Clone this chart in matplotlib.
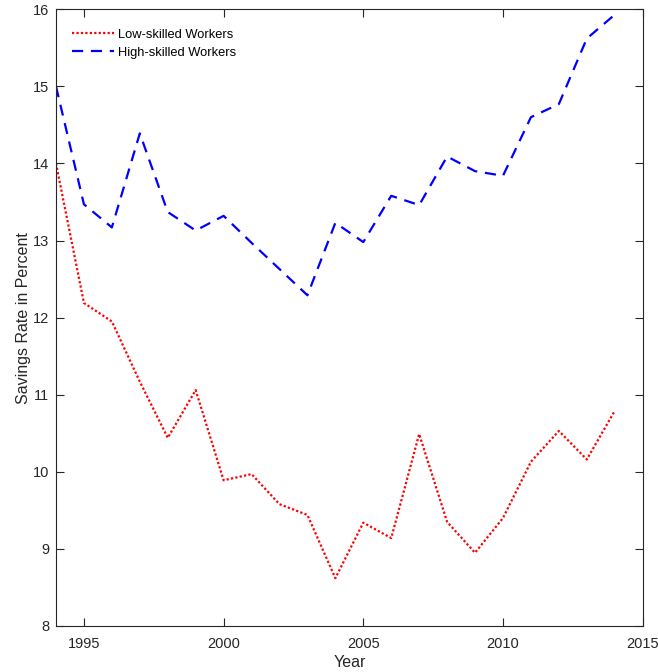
import matplotlib
matplotlib.use("Agg")
import matplotlib.pyplot as plt

years = list(range(1994, 2015))
low_skilled = [14.0, 12.19, 11.95, 11.17, 10.44, 11.06, 9.89, 9.97, 9.58, 9.44,
               8.62, 9.34, 9.14, 10.49, 9.35, 8.95, 9.40, 10.13, 10.53, 10.16, 10.79]
high_skilled = [15.0, 13.47, 13.17, 14.39, 13.37, 13.13, 13.32, 12.97, 12.63, 12.29,
                13.23, 12.98, 13.58, 13.46, 14.09, 13.90, 13.84, 14.60, 14.77, 15.62, 15.93]
xticks = [1995, 2000, 2005, 2010, 2015]
yticks = [8, 9, 10, 11, 12, 13, 14, 15, 16]

plt.rcParams["font.family"] = ["Liberation Sans", "DejaVu Sans"]
axis_color = "#262626"

fig = plt.figure(figsize=(6.58, 6.72), dpi=100)
ax = fig.add_axes([0.0851, 0.0685, 0.8916, 0.9177])

ax.plot(years, low_skilled, color="red", linestyle=(0, (1, 1)), linewidth=1.6,
        label="Low-skilled Workers")
ax.plot(years, high_skilled, color="blue", linestyle=(0, (5, 3.5)), linewidth=1.6,
        label="High-skilled Workers")

ax.set_xlim(1994, 2015)
ax.set_ylim(8, 16)
ax.set_xticks(xticks)
ax.set_yticks(yticks)
ax.tick_params(direction="in", length=6, width=0.8, top=True, right=True,
               labelsize=10.5, colors=axis_color)
ax.tick_params(axis="x", pad=8)
ax.tick_params(axis="y", pad=5)
for sp in ax.spines.values():
    sp.set_color(axis_color)
    sp.set_linewidth(0.8)

ax.set_xlabel("Year", fontsize=11.5, color=axis_color, labelpad=3)
ax.set_ylabel("Savings Rate in Percent", fontsize=11.5, color=axis_color, labelpad=1)

ax.legend(loc="upper left", bbox_to_anchor=(0.005, 0.989), frameon=False,
          fontsize=9.3, handlelength=3.3, handletextpad=0.3,
          borderaxespad=0.6, labelspacing=0.45)

fig.savefig("out.png", dpi=100)
